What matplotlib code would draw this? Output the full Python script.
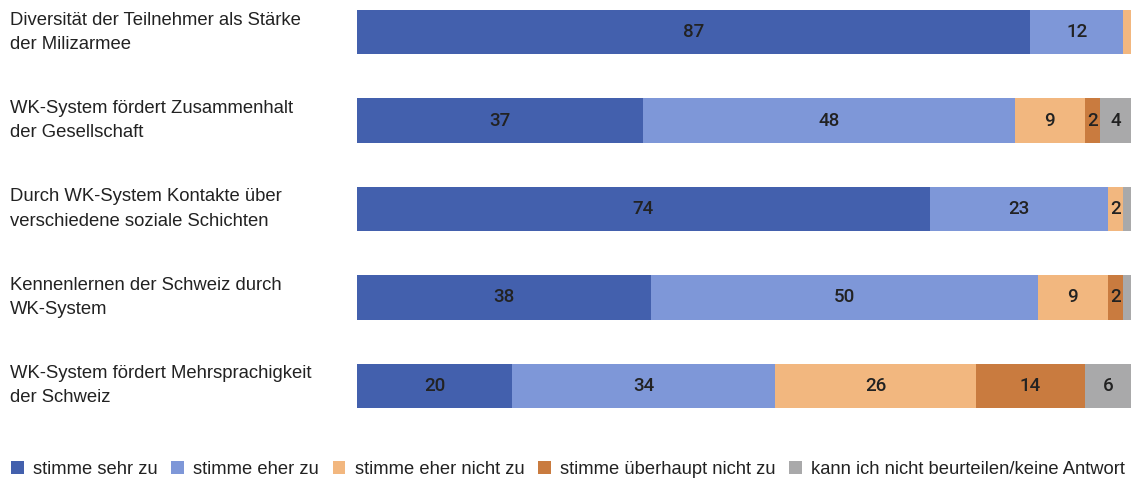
import matplotlib.pyplot as plt
from matplotlib.patches import Patch
from matplotlib.transforms import blended_transform_factory

plt.rcParams['font.family'] = ['Liberation Sans', 'DejaVu Sans']

# Statements (top to bottom)
statements = [
    "Diversität der Teilnehmer als Stärke\nder Milizarmee",
    "WK-System fördert Zusammenhalt\nder Gesellschaft",
    "Durch WK-System Kontakte über\nverschiedene soziale Schichten",
    "Kennenlernen der Schweiz durch\nWK-System",
    "WK-System fördert Mehrsprachigkeit\nder Schweiz",
]

categories = [
    "stimme sehr zu",
    "stimme eher zu",
    "stimme eher nicht zu",
    "stimme überhaupt nicht zu",
    "kann ich nicht beurteilen/keine Antwort",
]

# Percentages per category, one value per statement
sehr_zu = [87, 37, 74, 38, 20]
eher_zu = [12, 48, 23, 50, 34]
eher_nicht_zu = [1, 9, 2, 9, 26]
ueberhaupt_nicht_zu = [0.3, 2, 0, 2, 14]
keine_antwort = [0, 4, 1, 1, 6]

series = [sehr_zu, eher_zu, eher_nicht_zu, ueberhaupt_nicht_zu, keine_antwort]
colors = ["#4360ad", "#7e97d8", "#f2b77f", "#c97b3f", "#a9a9aa"]

fig = plt.figure(figsize=(11.45, 4.79), dpi=100)
ax = fig.add_axes([357 / 1145, 1 - 408 / 479, 774 / 1145, 398 / 479])

rows = list(range(len(statements)))
left = [0] * len(statements)
for vals, col in zip(series, colors):
    ax.barh(rows, vals, left=left, height=0.5, color=col, edgecolor="none")
    for r, v, l in zip(rows, vals, left):
        if v >= 2:
            ax.text(l + v / 2, r, f"{v:g}", ha="center", va="center",
                    fontsize=13.5, fontweight="medium", color="#222222",
                    family=["Roboto", "DejaVu Sans"])
    left = [a + b for a, b in zip(left, vals)]

ax.set_xlim(0, 100)
ax.set_ylim(4.25, -0.25)
ax.axis("off")

# statement labels on the left
trans = blended_transform_factory(fig.transFigure, ax.transData)
for r, s in zip(rows, statements):
    fig.text(10 / 1145, r, s, transform=trans, fontsize=13.3,
             color="#222222", ha="left", va="center", linespacing=1.55)

handles = [Patch(facecolor=c, edgecolor="none") for c in colors]
fig.legend(handles, categories, loc="lower left", bbox_to_anchor=(-0.005, -0.033),
           ncol=5, frameon=False, fontsize=13.2, handlelength=0.7,
           handleheight=0.7, handletextpad=0.5, columnspacing=0.75,
           labelcolor="#222222")

fig.savefig("out.png", dpi=100)
